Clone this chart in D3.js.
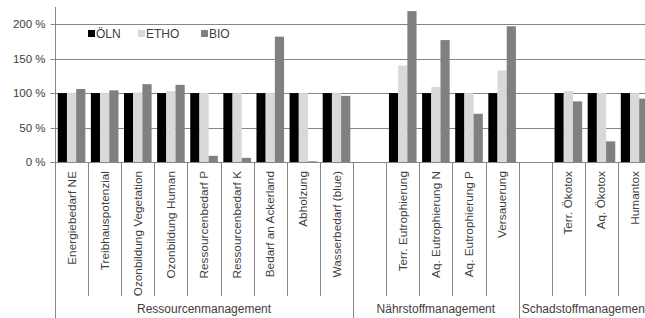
<!DOCTYPE html>
<html>
<head>
<meta charset="utf-8">
<script src="https://cdn.jsdelivr.net/npm/d3@7"></script>
<style>
  body { margin: 0; background: #fff; overflow: hidden; }
  svg { display: block; font-family: "Liberation Sans", Arial, sans-serif; }
</style>
</head>
<body>
<div id="chart"></div>
<script>
// categories incl. empty spacer slots ("")
const categories = [
  "Energiebedarf NE", "Treibhauspotenzial", "Ozonbildung Vegetation", "Ozonbildung Human",
  "Ressourcenbedarf P", "Ressourcenbedarf K", "Bedarf an Ackerland", "Abholzung", "Wasserbedarf (blue)",
  "", "Terr. Eutrophierung", "Aq. Eutrophierung N", "Aq. Eutrophierung P", "Versauerung",
  "", "Terr. Ökotox", "Aq. Ökotox", "Humantox"
];
const groups = ["Ressourcenmanagement", "Nährstoffmanagement", "Schadstoffmanagement"];
const groupSizes = [9, 5, 4];

const series = ["ÖLN", "ETHO", "BIO"];
const oeln = [100, 100, 100, 100, 100, 100, 100, 100, 100, null, 100, 100, 100, 100, null, 100, 100, 100];
const etho = [100, 100, 101, 103, 100, 100, 100, 100, 100, null, 140, 109, 100, 133, null, 103, 100, 100];
const bio  = [106, 104, 113, 112, 9, 6, 182, 1, 96, null, 219, 177, 70, 197, null, 88, 30, 92];
const yTicks = [0, 50, 100, 150, 200];

const colors = { "ÖLN": "#000000", "ETHO": "#d9d9d9", "BIO": "#808080" };
const values = { "ÖLN": oeln, "ETHO": etho, "BIO": bio };

const W = 645, H = 318;
const plotLeft = 55, slotW = 33.12, plotTop = 7, base = 162;

const svg = d3.select("#chart").append("svg")
  .attr("width", W).attr("height", H);

const x = d3.scaleBand()
  .domain(categories.map((c, i) => i))
  .range([plotLeft, plotLeft + slotW * categories.length])
  .padding(0);
const xs = d3.scaleBand()
  .domain(series)
  .range([0, x.bandwidth()])
  .paddingInner(0).paddingOuter(0.3);
const y = d3.scaleLinear().domain([0, 225]).range([base, plotTop]);

const axisColor = "#868686";
const textColor = "#404040";

// gridlines
svg.append("g")
  .selectAll("line")
  .data(yTicks.filter(t => t > 0))
  .enter().append("line")
  .attr("x1", plotLeft).attr("x2", W)
  .attr("y1", d => Math.round(y(d)) + 0.5).attr("y2", d => Math.round(y(d)) + 0.5)
  .attr("stroke", axisColor).attr("stroke-width", 1);

// y axis
const yAxis = svg.append("g")
  .attr("transform", `translate(${plotLeft + 0.5},0)`)
  .call(d3.axisLeft(y).tickValues(yTicks).tickSize(5).tickFormat(d => d + " %"));
yAxis.select(".domain").attr("stroke", axisColor).attr("d", `M0,${base}.5V${plotTop}`);
yAxis.selectAll(".tick line").attr("stroke", axisColor);
yAxis.selectAll(".tick text")
  .attr("x", -10)
  .attr("fill", textColor)
  .style("font-size", "11.5px")
  .style("font-family", "Liberation Sans, Arial, sans-serif");
yAxis.selectAll(".tick").attr("transform", d => `translate(0,${Math.round(y(d)) + 0.5})`);

// bars
series.forEach(s => {
  svg.append("g")
    .selectAll("rect")
    .data(values[s].map((v, i) => ({ i, v })).filter(d => d.v !== null))
    .enter().append("rect")
    .attr("x", d => x(d.i) + xs(s))
    .attr("width", xs.bandwidth())
    .attr("y", d => y(d.v))
    .attr("height", d => base - y(d.v))
    .attr("fill", colors[s]);
});

// x baseline
svg.append("line")
  .attr("x1", plotLeft).attr("x2", W)
  .attr("y1", base + 0.5).attr("y2", base + 0.5)
  .attr("stroke", axisColor);

// category separators and group separators
const groupStarts = [];
let acc = 0;
groupSizes.forEach(n => { groupStarts.push(acc); acc += n; });

categories.forEach((c, i) => {
  const gx = Math.round(x(i)) + 0.5;
  const isGroup = groupStarts.includes(i);
  svg.append("line")
    .attr("x1", gx).attr("x2", gx)
    .attr("y1", base).attr("y2", isGroup ? H : 296)
    .attr("stroke", axisColor);
});
svg.append("line")
  .attr("x1", Math.round(x(categories.length - 1) + slotW) + 0.5)
  .attr("x2", Math.round(x(categories.length - 1) + slotW) + 0.5)
  .attr("y1", base).attr("y2", H)
  .attr("stroke", axisColor);

// category labels
svg.append("g")
  .selectAll("text")
  .data(categories.map((c, i) => ({ c, i })).filter(d => d.c !== ""))
  .enter().append("text")
  .attr("transform", d => `translate(${x(d.i) + x.bandwidth() / 2 + 4},171) rotate(-90)`)
  .attr("text-anchor", "end")
  .attr("fill", textColor)
  .style("font-size", "11.8px")
  .text(d => d.c);

// group labels
groups.forEach((g, gi) => {
  const a = x(groupStarts[gi]);
  const b = x(groupStarts[gi] + groupSizes[gi] - 1) + slotW;
  svg.append("text")
    .attr("x", (a + b) / 2)
    .attr("y", 313)
    .attr("text-anchor", "middle")
    .attr("fill", textColor)
    .style("font-size", "12px")
    .text(g);
});

// legend
const legendX = [88, 138, 201];
const legend = svg.append("g");
series.forEach((s, i) => {
  legend.append("rect")
    .attr("x", legendX[i]).attr("y", 30)
    .attr("width", 7).attr("height", 7)
    .attr("fill", colors[s]);
  legend.append("text")
    .attr("x", legendX[i] + 8).attr("y", 37.5)
    .attr("fill", textColor)
    .style("font-size", "12px")
    .text(s);
});
</script>
</body>
</html>
